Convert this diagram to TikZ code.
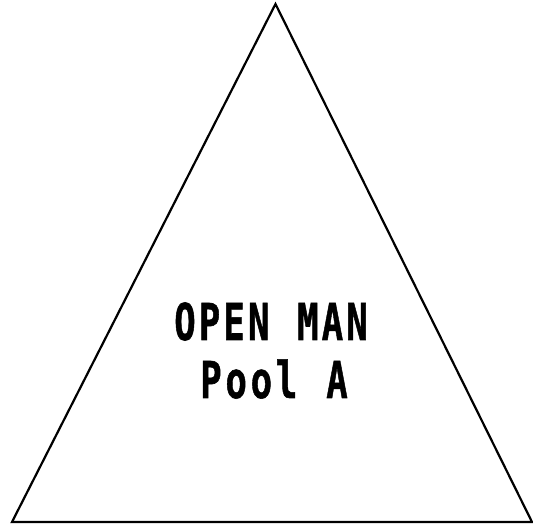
\documentclass[tikz,border=0pt]{standalone}
\usepackage{fontspec}
\newfontfamily\labfont{DejaVu Sans Mono}[BoldFeatures={FakeBold=1.2}]
\begin{document}
\begin{tikzpicture}[x=1pt,y=1pt,
  edge/.style={draw=black,line width=2.2pt,line join=miter},
  ch/.style={inner sep=0pt,outer sep=0pt,anchor=base}]
\useasboundingbox (0,0) rectangle (533,524);
\coordinate (apex) at (275.5,520);
\coordinate (bl) at (12,2);
\coordinate (br) at (532,2);
\draw[edge] (apex) -- (bl) -- (br) -- cycle;
% OPEN MAN
\foreach \c/\i in {O/0,P/1,E/2,N/3,M/5,A/6,N/7}{
  \node[ch] (a\i) at ({185+\i*24.57},184) {\scalebox{0.7}[1]{\labfont\bfseries\fontsize{50.8}{60}\selectfont \c}};
}
% Pool A
\foreach \c/\i in {P/0,o/1,o/2,l/3,A/5}{
  \node[ch] (b\i) at ({211+\i*25.2},126) {\scalebox{0.7}[1]{\labfont\bfseries\fontsize{50.8}{60}\selectfont \c}};
}
\end{tikzpicture}
\end{document}
